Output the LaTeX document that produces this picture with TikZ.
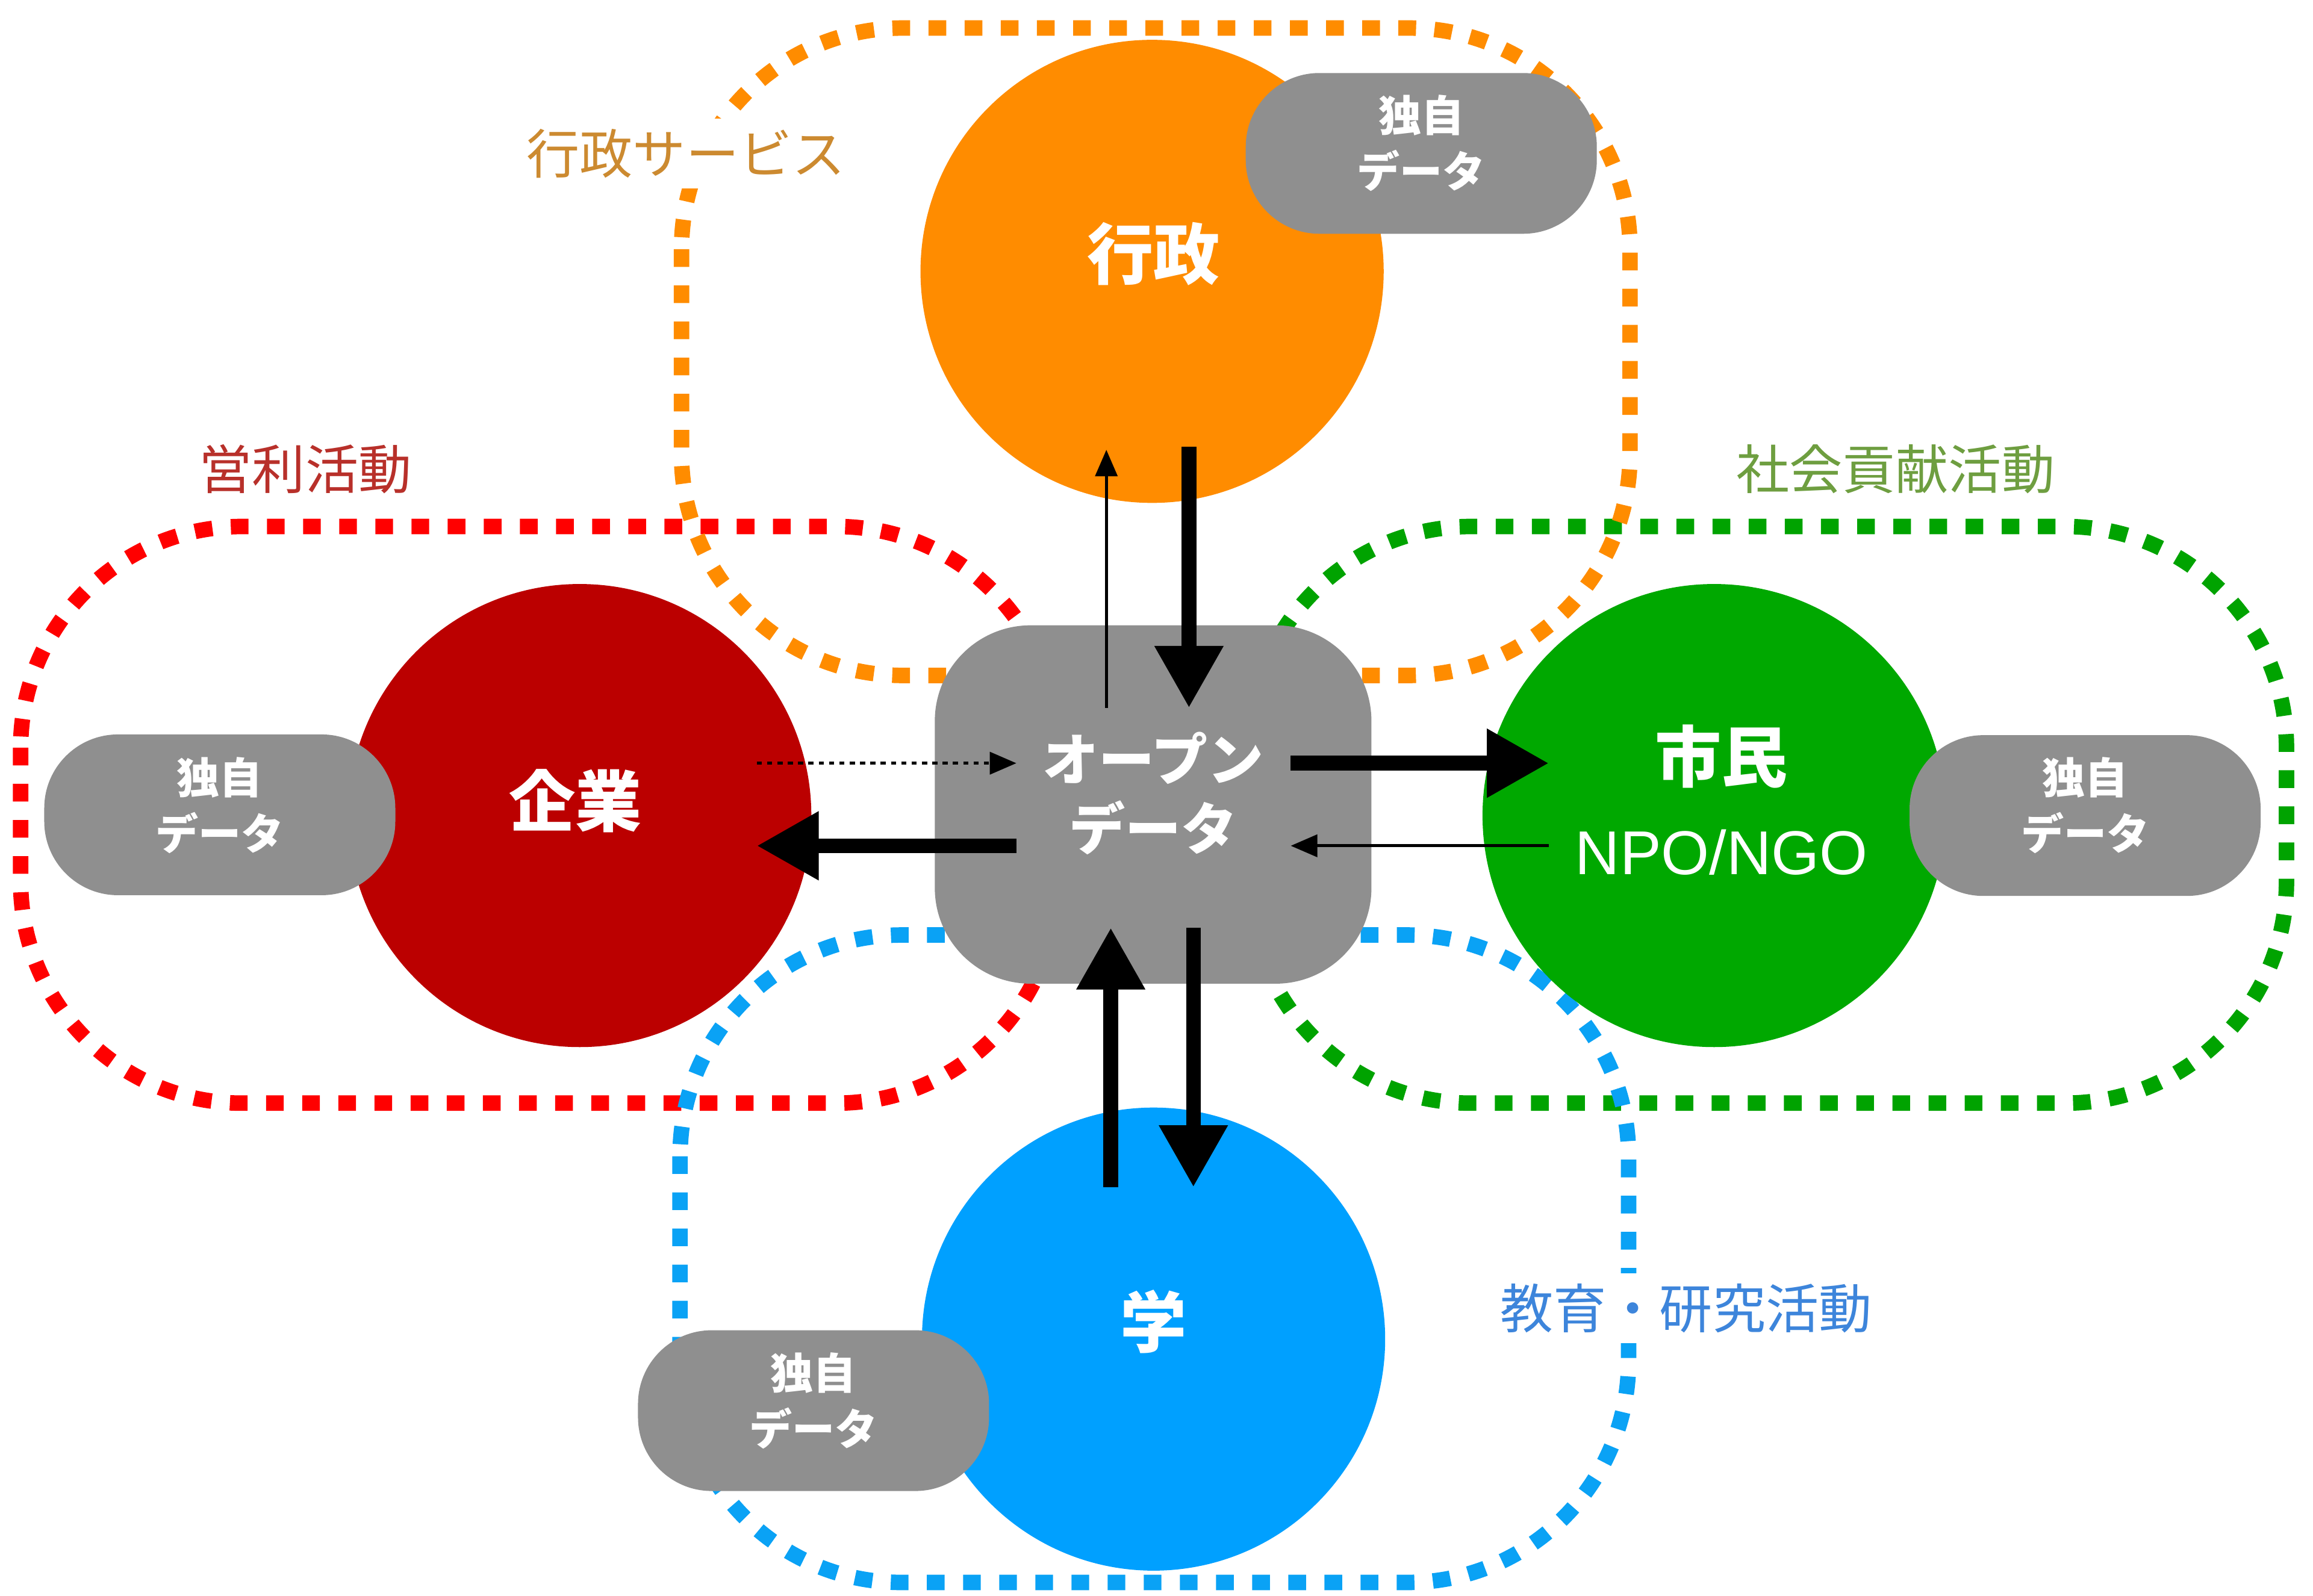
\documentclass[tikz,border=0pt]{standalone}
\usepackage{fontspec}
\setmainfont{Noto Sans CJK JP}
\newfontfamily\latinfont{Liberation Sans}
\usetikzlibrary{arrows.meta}
\definecolor{cOrange}{HTML}{FF8C00}
\definecolor{cRed}{HTML}{BB0000}
\definecolor{cGreen}{HTML}{00A800}
\definecolor{cBlue}{HTML}{00A0FF}
\definecolor{cGray}{HTML}{8F8F8F}
\definecolor{lOrange}{HTML}{FF8C00}
\definecolor{lRed}{HTML}{FF0000}
\definecolor{lGreen}{HTML}{00A300}
\definecolor{lBlue}{HTML}{0AA2F5}
\definecolor{tOrange}{HTML}{CC8A30}
\definecolor{tRed}{HTML}{B8302A}
\definecolor{tGreen}{HTML}{6E9E40}
\definecolor{tBlue}{HTML}{3D85DB}
\begin{document}
\begin{tikzpicture}[x=1pt,y=-1pt,
  loopline/.style={line width=10.5pt, dash pattern=on 12pt off 12.5pt, rounded corners=150pt},
  actor/.style={circle, minimum size=314pt, inner sep=0pt},
  actortext/.style={text=white, inner sep=0pt, font=\fontsize{45}{52}\selectfont\bfseries},
  pill/.style={rectangle, rounded corners=50pt, fill=cGray, minimum width=238pt, minimum height=109pt, inner sep=0pt},
  pilltext/.style={text=white, align=center, inner sep=0pt, font=\fontsize{29}{38}\selectfont\bfseries},
  area/.style={fill=white, inner sep=7pt, font=\fontsize{36}{40}\selectfont},
  bigarrow/.style={line width=10pt, -{Triangle[width=44pt,length=42pt]}},
  smallarrow/.style={line width=2pt, -{Triangle[width=15pt,length=18pt]}},
  dotarrow/.style={line width=2pt, dash pattern=on 3.5pt off 3.5pt, -{Triangle[width=15pt,length=18pt]}}
]
\useasboundingbox (0,0) rectangle (1568,1082);
\fill[white] (0,0) rectangle (1568,1082);

% activity loops
\draw[loopline, lRed] (14,357) rectangle (717,748);
\draw[loopline, lGreen] (847,357) rectangle (1550,748);
\draw[loopline, lOrange] (462,19) rectangle (1105,458);
\draw[loopline, lBlue] (461,634) rectangle (1104,1073);

% loop labels
\node[area, text=tOrange] (lblgyosei) at (465,104) {行政サービス};
\node[area, text=tRed] (lbleigyo) at (207,318) {営利活動};
\node[area, text=tGreen] (lblshakai) at (1285,318) {社会貢献活動};
\node[area, text=tBlue] (lblkyoiku) at (1143,887) {教育・研究活動};

% actors
\node[actor, fill=cOrange] (gyosei) at (781,184) {};
\node[actor, fill=cRed] (kigyo) at (393,553) {};
\node[actor, fill=cGreen] (shimin) at (1162,553) {};
\node[actor, fill=cBlue] (gaku) at (782,908) {};
\node[actortext] (gyoseiT) at (782,172) {行政};
\node[actortext] (kigyoT) at (390,543) {企業};
\node[actortext] (shiminT) at (1167,513) {市民};
\node[text=white, inner sep=0pt, font=\latinfont\fontsize{42}{48}\selectfont] (ngoT) at (1167,578) {NPO/NGO};
\node[actortext] (gakuT) at (782,896) {学};

% own data pills
\node[pill] (p1) at (963.5,104) {};
\node[pill] (p2) at (149,552.5) {};
\node[pill] (p3) at (1413.5,553) {};
\node[pill] (p4) at (551.5,956.5) {};
\node[pilltext] (p1t) at (963.5,97) {独自\\データ};
\node[pilltext] (p2t) at (149,546) {独自\\データ};
\node[pilltext] (p3t) at (1413.5,546) {独自\\データ};
\node[pilltext] (p4t) at (551.5,950) {独自\\データ};

% open data
\node[rectangle, rounded corners=65pt, fill=cGray, minimum width=296pt, minimum height=243pt, inner sep=0pt] (open) at (781.7,545.5) {};
\node[text=white, align=center, inner sep=0pt, font=\fontsize{38}{47}\selectfont\bfseries] (openT) at (781.7,538) {オープン\\データ};

% arrow end points
\coordinate (a1s) at (750,480); \coordinate (a1e) at (750,305);
\coordinate (a2s) at (806,303); \coordinate (a2e) at (806,480);
\coordinate (a3s) at (513,517.5); \coordinate (a3e) at (689,517.5);
\coordinate (a4s) at (689,573.5); \coordinate (a4e) at (513,573.5);
\coordinate (a5s) at (875,517.5); \coordinate (a5e) at (1050,517.5);
\coordinate (a6s) at (1050,573.5); \coordinate (a6e) at (875,573.5);
\coordinate (a7s) at (753,805); \coordinate (a7e) at (753,629);
\coordinate (a8s) at (809,629); \coordinate (a8e) at (809,805);

\draw[smallarrow] (a1s) -- (a1e);
\draw[bigarrow] (a2s) -- (a2e);
\draw[dotarrow] (a3s) -- (a3e);
\draw[bigarrow] (a4s) -- (a4e);
\draw[bigarrow] (a5s) -- (a5e);
\draw[smallarrow] (a6s) -- (a6e);
\draw[bigarrow] (a7s) -- (a7e);
\draw[bigarrow] (a8s) -- (a8e);
\end{tikzpicture}
\end{document}
